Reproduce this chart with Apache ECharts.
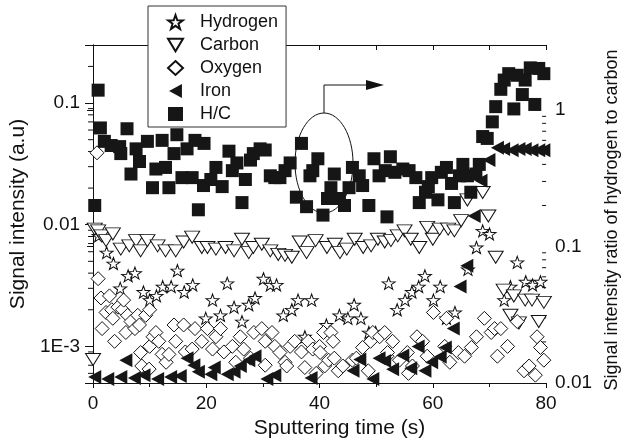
<!DOCTYPE html>
<html>
<head>
<meta charset="utf-8">
<script src="https://cdn.jsdelivr.net/npm/echarts@6/dist/echarts.min.js"></script>
<style>
  html, body { margin: 0; padding: 0; background: #fff; }
  #chart { width: 629px; height: 448px; }
</style>
</head>
<body>
<div id="chart"></div>
<script>
// [time (s), signal] pairs
const hydrogen = [
  [1.0, 0.0081], [2.4, 0.0059], [3.6, 0.0048], [4.8, 0.0030], [6.2, 0.0038], [7.4, 0.0040],
  [8.9, 0.0028], [10.0, 0.0024], [11.2, 0.0026], [12.3, 0.0031], [13.8, 0.0031], [14.9, 0.0042],
  [16.1, 0.0028], [17.6, 0.0032], [19.9, 0.0017], [21.1, 0.0024], [22.5, 0.0018], [23.7, 0.0033],
  [24.9, 0.0021], [26.3, 0.0016], [27.5, 0.0022], [28.6, 0.0025], [30.1, 0.0036], [31.3, 0.0032],
  [32.4, 0.0032], [33.6, 0.0018], [35.1, 0.0020], [36.2, 0.0024], [37.4, 0.0012], [38.6, 0.0024],
  [41.2, 0.0015], [43.5, 0.0018], [45.0, 0.0017], [46.1, 0.0022], [47.3, 0.0017], [48.7, 0.0013],
  [49.9, 0.0013], [52.2, 0.0033], [53.7, 0.0020], [55.1, 0.0024], [56.3, 0.0028], [57.5, 0.0031],
  [58.6, 0.0038], [60.1, 0.0024], [61.3, 0.0031], [62.4, 0.0017], [63.9, 0.0019], [66.2, 0.0043],
  [67.7, 0.0065], [68.8, 0.0089], [70.0, 0.0084], [72.6, 0.0024], [73.7, 0.0031], [74.9, 0.0049],
  [76.4, 0.0034], [77.6, 0.0032], [79.0, 0.0034]
];
const carbon = [
  [0.0, 0.00078], [0.3, 0.0092], [0.9, 0.0089], [1.5, 0.0081], [2.3, 0.0074], [3.5, 0.0084],
  [4.9, 0.0063], [6.4, 0.0067], [7.6, 0.0074], [8.4, 0.0061], [9.6, 0.0074], [11.4, 0.0067],
  [12.8, 0.0061], [14.6, 0.0061], [16.0, 0.0072], [17.5, 0.0079], [19.2, 0.0065], [20.2, 0.0065],
  [21.7, 0.0063], [23.4, 0.0065], [24.9, 0.0061], [26.3, 0.0076], [27.5, 0.0059], [28.3, 0.0065],
  [29.8, 0.0069], [31.3, 0.0061], [32.7, 0.0057], [33.9, 0.0056], [35.1, 0.0054], [36.5, 0.0072],
  [37.7, 0.0059], [39.3, 0.0074], [41.3, 0.0065], [42.7, 0.0069], [43.6, 0.0059], [44.8, 0.0063],
  [46.2, 0.0076], [47.7, 0.0065], [49.1, 0.0067], [50.3, 0.0076], [51.5, 0.0072], [52.6, 0.0074],
  [53.8, 0.0081], [55.0, 0.0089], [56.1, 0.0076], [57.6, 0.0065], [59.0, 0.0095], [60.0, 0.0076],
  [61.2, 0.0092], [62.7, 0.0092], [63.8, 0.0089], [65.0, 0.0108], [66.1, 0.0160], [68.8, 0.0184],
  [69.8, 0.0118], [71.1, 0.0054], [72.5, 0.0029], [73.7, 0.0018], [74.3, 0.0026], [75.2, 0.00156],
  [76.3, 0.0024], [77.5, 0.0024], [78.7, 0.0016], [79.6, 0.0023]
];
const oxygen = [
  [0.7, 0.039], [0.9, 0.0036], [1.4, 0.0025], [1.6, 0.0014], [2.3, 0.0019], [2.9, 0.0026],
  [3.3, 0.0020], [3.5, 0.0017], [3.8, 0.0011], [4.4, 0.0021], [5.2, 0.0020], [5.4, 0.0024],
  [5.8, 0.0013], [6.1, 0.0018], [6.7, 0.0016], [7.4, 0.0014], [7.9, 0.0018], [8.2, 0.0015],
  [8.4, 0.00089], [8.6, 0.00069], [9.3, 0.0018], [9.9, 0.00065], [10.0, 0.0020], [10.0, 0.0010],
  [10.6, 0.0012], [11.1, 0.0013], [11.6, 0.0011], [12.2, 0.00086], [12.9, 0.00074], [13.4, 0.00086],
  [14.3, 0.0015], [14.6, 0.0011], [16.0, 0.0015], [16.3, 0.0009], [17.5, 0.00095], [18.0, 0.0014],
  [19.2, 0.0011], [20.2, 0.0014], [21.1, 0.00095], [21.7, 0.0012], [22.5, 0.0014], [23.1, 0.0009],
  [24.6, 0.0010], [25.2, 0.00074], [26.0, 0.0012], [26.6, 0.00095], [27.8, 0.0008], [28.4, 0.0013],
  [29.8, 0.0014], [30.4, 0.0011], [30.4, 0.0007], [31.6, 0.0013], [32.1, 0.0010], [33.0, 0.00089],
  [33.9, 0.00074], [34.2, 0.00069], [34.8, 0.0010], [35.6, 0.0011], [36.8, 0.0009], [37.4, 0.00067],
  [38.0, 0.0011], [38.8, 0.00095], [39.4, 0.0006], [40.0, 0.0010], [40.1, 0.00089], [40.7, 0.0013],
  [40.9, 0.00069], [41.6, 0.00077], [42.0, 0.0013], [42.4, 0.0011], [42.6, 0.0008], [43.3, 0.00063],
  [44.1, 0.00069], [45.8, 0.00077], [46.5, 0.0008], [47.6, 0.00098], [48.6, 0.00063], [49.0, 0.0011],
  [49.4, 0.0013], [50.6, 0.0012], [51.5, 0.0013], [51.9, 0.00083], [52.0, 0.00089], [52.9, 0.0011],
  [54.1, 0.00077], [55.5, 0.00089], [55.7, 0.0006], [56.4, 0.00069], [57.2, 0.0012], [58.2, 0.0011],
  [59.0, 0.00083], [60.1, 0.0019], [62.1, 0.0010], [62.4, 0.0017], [63.0, 0.00074], [64.5, 0.00089],
  [65.6, 0.00083], [66.8, 0.00098], [67.7, 0.0012], [69.1, 0.0017], [70.3, 0.0013], [70.9, 0.0014],
  [71.4, 0.00083], [72.0, 0.0014], [73.2, 0.0010], [74.9, 0.0016], [76.1, 0.00063], [77.0, 0.00069],
  [78.1, 0.00058], [78.4, 0.0012], [79.0, 0.00098], [79.6, 0.00077]
];
const iron = [
  [0.3, 0.00056], [2.6, 0.00054], [4.9, 0.00056], [5.8, 0.00077], [7.3, 0.00055], [9.0, 0.00058],
  [11.4, 0.00054], [13.7, 0.00056], [15.4, 0.00057], [16.6, 0.00080], [17.8, 0.00070], [18.6, 0.00062],
  [20.8, 0.00059], [21.4, 0.00067], [23.7, 0.00059], [24.9, 0.00062], [26.0, 0.00069], [27.5, 0.00077],
  [28.6, 0.00083], [30.7, 0.00054], [32.1, 0.00058], [38.5, 0.00055], [45.9, 0.00063], [47.1, 0.00078],
  [49.4, 0.00054], [50.5, 0.00080], [51.5, 0.00076], [52.9, 0.00065], [54.7, 0.00084], [56.1, 0.00066],
  [57.4, 0.00100], [58.6, 0.00063], [59.8, 0.00074], [61.3, 0.00082], [62.2, 0.00098], [63.6, 0.0014],
  [64.8, 0.0031], [66.0, 0.0046], [67.3, 0.0118], [68.5, 0.023], [69.9, 0.034], [71.4, 0.043],
  [72.5, 0.042], [74.0, 0.041], [75.2, 0.042], [76.3, 0.042], [77.5, 0.041], [78.7, 0.041], [79.6, 0.041]
];
// H/C ratio, plotted on the right axis
const hcRatio = [
  [0.3, 0.20], [0.9, 1.40], [1.3, 0.74], [2.0, 0.59], [3.2, 0.55], [4.7, 0.54], [4.9, 0.48],
  [6.0, 0.73], [6.7, 0.34], [7.6, 0.52], [8.2, 0.42], [9.6, 0.59], [10.5, 0.27], [11.1, 0.37],
  [12.2, 0.60], [12.8, 0.38], [13.4, 0.27], [14.3, 0.48], [14.8, 0.66], [15.7, 0.32], [16.6, 0.52],
  [17.5, 0.32], [18.0, 0.60], [18.6, 0.186], [19.5, 0.28], [19.6, 0.57], [20.8, 0.31], [21.7, 0.38],
  [22.8, 0.275], [24.0, 0.50], [24.6, 0.36], [25.4, 0.41], [26.3, 0.21], [26.9, 0.31], [27.8, 0.43],
  [28.3, 0.48], [29.5, 0.52], [30.4, 0.51], [31.3, 0.33], [32.1, 0.32], [33.0, 0.32], [33.9, 0.36],
  [34.8, 0.41], [35.9, 0.23], [36.8, 0.57], [37.7, 0.196], [38.3, 0.33], [38.8, 0.36], [39.7, 0.44],
  [40.6, 0.17], [41.4, 0.225], [42.0, 0.27], [42.6, 0.34], [43.5, 0.225], [44.4, 0.20], [45.2, 0.27],
  [45.8, 0.38], [47.0, 0.33], [47.6, 0.28], [48.7, 0.20], [49.6, 0.44], [50.5, 0.33], [51.6, 0.36],
  [51.9, 0.165], [52.5, 0.455], [53.3, 0.35], [54.7, 0.37], [55.8, 0.36], [57.0, 0.32], [57.6, 0.21],
  [58.7, 0.25], [59.2, 0.275], [59.8, 0.32], [60.9, 0.22], [61.5, 0.35], [62.4, 0.38], [63.3, 0.29],
  [63.8, 0.21], [64.7, 0.33], [65.3, 0.40], [66.1, 0.33], [66.7, 0.25], [67.6, 0.34], [68.2, 0.40],
  [68.8, 0.64], [69.6, 0.62], [70.5, 0.82], [71.1, 1.06], [72.0, 1.42], [72.6, 1.66], [73.4, 1.85],
  [74.3, 1.02], [74.9, 1.8], [75.8, 1.3], [76.3, 1.66], [77.2, 2.04], [78.0, 1.1], [78.7, 2.02],
  [79.6, 1.85]
];

const seriesNames = ['Hydrogen', 'Carbon', 'Oxygen', 'Iron', 'H/C'];
const xTitle = 'Sputtering time (s)';
const leftTitle = 'Signal intensity (a.u)';
const rightTitle = 'Signal intensity ratio of hydrogen to carbon';
const leftTickValues = [0.001, 0.01, 0.1];
const leftTickLabels = ['1E-3', '0.01', '0.1'];
const rightTickValues = [0.01, 0.1, 1];
const rightTickLabels = ['0.01', '0.1', '1'];
const leftMinorTicks = [0.0006, 0.0007, 0.0008, 0.0009, 0.002, 0.003, 0.004, 0.005, 0.006, 0.007,
  0.008, 0.009, 0.02, 0.03, 0.04, 0.05, 0.06, 0.07, 0.08, 0.09, 0.2];
const rightMinorTicks = [0.02, 0.03, 0.04, 0.05, 0.06, 0.07, 0.08, 0.09, 0.2, 0.3, 0.4, 0.5, 0.6,
  0.7, 0.8, 0.9, 2];

const FONT = '"Liberation Sans", Arial, sans-serif';
const INK = '#111';

const STAR = 'path://M0,-10L2.35,-3.24L9.51,-3.09L3.8,1.24L5.88,8.09L0,4L-5.88,8.09L-3.8,1.24L-9.51,-3.09L-2.35,-3.24Z';
const DOWN_TRI = 'path://M0,0L12,0L6,10Z';
const LEFT_TRI = 'path://M0,6L11,0L11,12Z';

function pickLabel(values, labels) {
  return (v) => {
    for (let i = 0; i < values.length; i++) {
      if (Math.abs(Math.log10(v) - Math.log10(values[i])) < 1e-6) return labels[i];
    }
    return '';
  };
}

const hollow = { color: '#fff', borderColor: INK, borderWidth: 1, opacity: 1 };
const filled = { color: '#161616', borderWidth: 0, opacity: 1 };

const myChart = echarts.init(document.getElementById('chart'));

const option = {
  animation: false,
  textStyle: { fontFamily: FONT },
  grid: { left: 91, right: 80, top: 45, bottom: 65 },
  legend: {
    data: seriesNames,
    orient: 'vertical',
    left: 148,
    top: 6,
    padding: [7, 8, 4, 19],
    itemWidth: 15,
    itemHeight: 14,
    itemGap: 5,
    backgroundColor: '#fff',
    borderColor: '#333',
    borderWidth: 1,
    z: 10,
    textStyle: { fontFamily: FONT, fontSize: 18, color: INK, padding: [0, 0, 0, 12], lineHeight: 18 },
  },
  xAxis: [
    {
      type: 'value',
      min: 0,
      max: 80,
      interval: 20,
      name: xTitle,
      nameLocation: 'middle',
      nameGap: 35,
      nameTextStyle: { fontSize: 21, color: INK, padding: [0, 0, 0, 40] },
      axisLine: { lineStyle: { color: INK, width: 1 } },
      axisTick: { inside: false, length: 5, lineStyle: { color: INK } },
      minorTick: { show: true, splitNumber: 2, length: 4, lineStyle: { color: INK } },
      axisLabel: { fontSize: 19, color: INK, margin: 11 },
      splitLine: { show: false },
    },
    {
      type: 'value',
      position: 'top',
      min: 0,
      max: 80,
      interval: 10,
      axisLine: { show: true, lineStyle: { color: INK, width: 1 } },
      axisTick: { inside: true, length: 5, lineStyle: { color: INK } },
      axisLabel: { show: false },
      splitLine: { show: false },
    },
  ],
  yAxis: [
    {
      type: 'log',
      min: 0.0005,
      max: 0.3,
      name: leftTitle,
      nameLocation: 'middle',
      nameRotate: 90,
      nameGap: 54,
      nameTextStyle: { fontSize: 21, color: INK },
      axisLine: { show: true, lineStyle: { color: INK, width: 1 } },
      axisTick: { inside: false, length: 8, lineStyle: { color: INK } },
      axisLabel: { fontSize: 19, color: INK, margin: 13, formatter: pickLabel(leftTickValues, leftTickLabels) },
      splitLine: { show: false },
    },
    {
      type: 'log',
      min: 0.01,
      max: 3,
      position: 'right',
      name: rightTitle,
      nameLocation: 'middle',
      nameRotate: 90,
      nameGap: 56,
      nameTextStyle: { fontSize: 18, color: INK, padding: [0, 12, 0, 0] },
      axisLine: { show: true, lineStyle: { color: INK, width: 1 } },
      axisTick: { inside: true, length: 6, lineStyle: { color: INK } },
      axisLabel: { fontSize: 19, color: INK, margin: 9, formatter: pickLabel(rightTickValues, rightTickLabels) },
      splitLine: { show: false },
    },
  ],
  series: [
    {
      name: 'Hydrogen', type: 'scatter', yAxisIndex: 0, data: hydrogen,
      symbol: STAR, symbolSize: [13, 12], itemStyle: hollow,
    },
    {
      name: 'Carbon', type: 'scatter', yAxisIndex: 0, data: carbon,
      symbol: DOWN_TRI, symbolSize: [15, 12], itemStyle: hollow,
    },
    {
      name: 'Oxygen', type: 'scatter', yAxisIndex: 0, data: oxygen,
      symbol: 'diamond', symbolSize: [14, 14], itemStyle: hollow,
    },
    {
      name: 'Iron', type: 'scatter', yAxisIndex: 0, data: iron,
      symbol: LEFT_TRI, symbolSize: [13, 14], itemStyle: filled,
    },
    {
      name: 'H/C', type: 'scatter', yAxisIndex: 1, data: hcRatio,
      symbol: 'rect', symbolSize: 13, itemStyle: filled,
    },
    // minor log ticks, placed through the axis scales
    {
      type: 'custom', yAxisIndex: 0, clip: false, silent: true, z: 1,
      data: leftMinorTicks.map((v) => [0, v]),
      renderItem(params, api) {
        const p = api.coord([0, api.value(1)]);
        return { type: 'line', shape: { x1: p[0] - 5, y1: p[1], x2: p[0], y2: p[1] }, style: { stroke: INK, lineWidth: 1 } };
      },
    },
    {
      type: 'custom', yAxisIndex: 1, clip: false, silent: true, z: 1,
      data: rightMinorTicks.map((v) => [80, v]),
      renderItem(params, api) {
        const p = api.coord([80, api.value(1)]);
        return { type: 'line', shape: { x1: p[0] - 4, y1: p[1], x2: p[0], y2: p[1] }, style: { stroke: INK, lineWidth: 1 } };
      },
    },
  ],
  // ellipse + arrow marking the H/C series as right-axis data
  graphic: [
    { type: 'ellipse', z: 1, shape: { cx: 324, cy: 163, rx: 29, ry: 50 }, style: { fill: 'none', stroke: INK, lineWidth: 1 } },
    { type: 'polyline', z: 1, shape: { points: [[324, 113], [324, 85], [368, 85]] }, style: { fill: 'none', stroke: INK, lineWidth: 1 } },
    { type: 'polygon', z: 1, shape: { points: [[366, 80], [384, 85], [366, 90]] }, style: { fill: INK } },
  ],
};

myChart.setOption(option);
</script>
</body>
</html>
